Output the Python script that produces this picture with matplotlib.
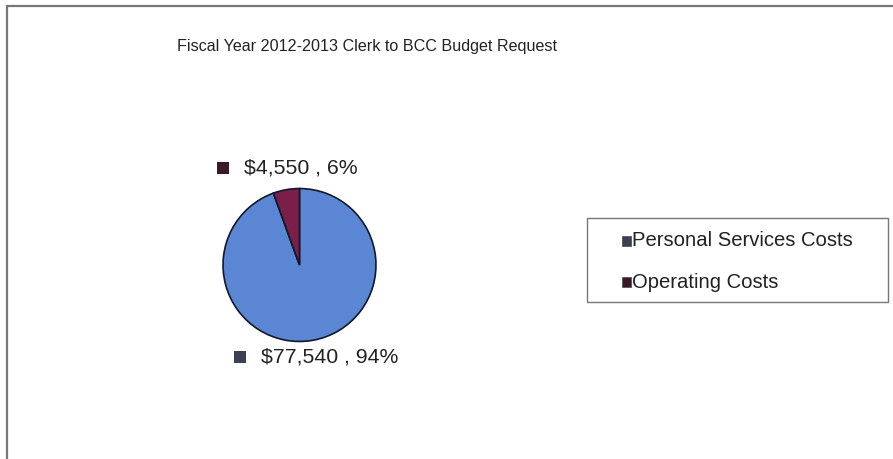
import matplotlib.pyplot as plt
from matplotlib.patches import Rectangle

plt.rcParams['font.family'] = ['Liberation Sans', 'DejaVu Sans']

# Budget breakdown
categories = ["Personal Services Costs", "Operating Costs"]
amounts = [77540, 4550]
percents = [94, 6]
colors = ["#5a86d4", "#7a2048"]
label_marker_colors = ["#3c4055", "#3a1a28"]

fig = plt.figure(figsize=(8.93, 4.59), dpi=100)
fig.patch.set_facecolor("white")

# chart frame
fig.patches.append(Rectangle((7 / 893, -0.05), 1.0, 1 - 6 / 459 + 0.05,
                             transform=fig.transFigure, fill=False,
                             edgecolor="#777777", linewidth=1.6))

fig.text(367 / 893, 1 - 46 / 459, "Fiscal Year 2012-2013 Clerk to BCC Budget Request",
         ha="center", va="center", fontsize=11.6, color="#222222")

# pie: center (299.5, 265), radius ~78 px
r = 78
ax = fig.add_axes([(299.5 - r) / 893, 1 - (265 + r) / 459, 2 * r / 893, 2 * r / 459])
wedges, _ = ax.pie(amounts, colors=colors, startangle=90, counterclock=False,
                   wedgeprops=dict(edgecolor="#10182a", linewidth=1.2))
ax.set_aspect("auto")
ax.set_xlim(-1.02, 1.02)
ax.set_ylim(-1.02, 1.02)

# data labels with small colour squares
label_pos = [(234, 357), (217, 168)]
for (x, y), amt, pct, mc in zip(label_pos, amounts, percents, label_marker_colors):
    fig.patches.append(Rectangle((x / 893, 1 - (y + 6) / 459), 12 / 893, 12 / 459,
                                 transform=fig.transFigure, facecolor=mc, edgecolor="none"))
    fig.text((x + 27) / 893, 1 - y / 459, f"${amt:,} , {pct}%",
             ha="left", va="center", fontsize=15.3, color="#222222")

# legend box
fig.patches.append(Rectangle((587 / 893, 1 - 302 / 459), 301 / 893, 84 / 459,
                             transform=fig.transFigure, fill=False,
                             edgecolor="#777777", linewidth=1.0))
for i, (cat, mc) in enumerate(zip(categories, label_marker_colors)):
    y = 241 + i * 41
    fig.patches.append(Rectangle((622 / 893, 1 - (y + 5) / 459), 9 / 893, 10 / 459,
                                 transform=fig.transFigure, facecolor=mc,
                                 edgecolor="#555555", linewidth=0.6))
    fig.text(632 / 893, 1 - y / 459, cat, ha="left", va="center",
             fontsize=14.6, color="#222222")

fig.savefig("out.png", dpi=100, facecolor="white")
